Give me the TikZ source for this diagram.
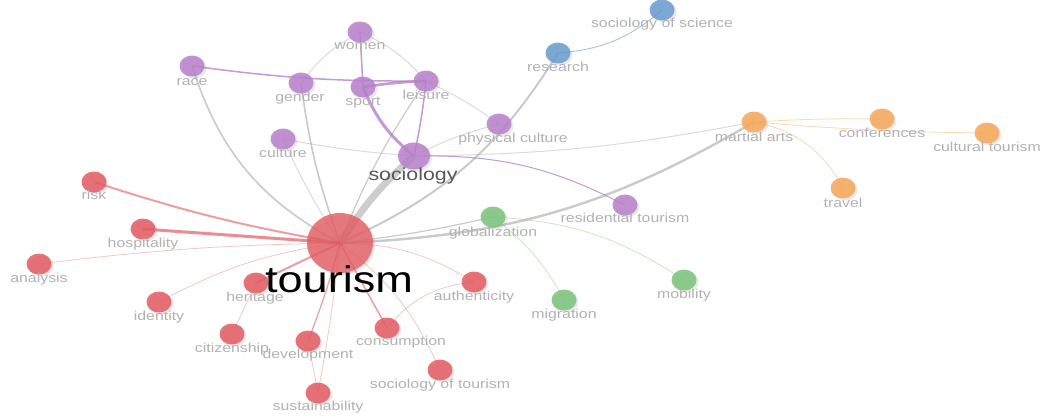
\documentclass[tikz,border=0pt]{standalone}
\usepackage{fontspec}
\setmainfont{Liberation Sans}
\usepackage{graphicx}
\usetikzlibrary{shapes.geometric,shadows}
\pgfdeclarelayer{background}
\pgfsetlayers{background,main}
\definecolor{cpur}{RGB}{184,128,204}
\definecolor{cred}{RGB}{228,92,98}
\definecolor{cblu}{RGB}{104,156,206}
\definecolor{cora}{RGB}{245,168,88}
\definecolor{cgrn}{RGB}{122,196,122}
\definecolor{cedge}{RGB}{185,185,185}
\definecolor{clab}{RGB}{178,178,178}
\newcommand\wlab[1]{\scalebox{1.22}[1]{#1}}
\tikzset{
  dot/.style={ellipse, inner sep=0pt, minimum width=25pt, minimum height=21pt,
    fill opacity=0.85, draw=none,
    drop shadow={opacity=0.18, shadow xshift=2pt, shadow yshift=-2pt}},
  pur/.style={dot, fill=cpur},
  red/.style={dot, fill=cred},
  blu/.style={dot, fill=cblu},
  ora/.style={dot, fill=cora},
  grn/.style={dot, fill=cgrn},
  lab/.style={text=clab, font=\fontsize{13}{13}\selectfont, inner sep=0pt,
    text height=9pt, text depth=3pt},
  ge/.style={draw=cedge, line width=1.6pt, opacity=0.75},
  gel/.style={draw=cedge, line width=1pt, opacity=0.5},
  pe/.style={draw=cpur, line width=1.5pt, opacity=0.8},
  pel/.style={draw=cpur, line width=0.9pt, opacity=0.5},
  re/.style={draw=cred, line width=1.2pt, opacity=0.6},
  rel/.style={draw=cred, line width=0.8pt, opacity=0.35},
  oe/.style={draw=cora, line width=0.8pt, opacity=0.45},
  be/.style={draw=cblu, line width=0.9pt, opacity=0.6},
  gre/.style={draw=cgrn, line width=0.8pt, opacity=0.4},
}
\begin{document}
\begin{tikzpicture}[x=1pt,y=-1pt]
\useasboundingbox (0,0) rectangle (1046,420);
% nodes
\node[red, minimum width=66pt, minimum height=60pt, fill opacity=0.8] (tour) at (340,243) {};
\node[pur, minimum width=32pt, minimum height=27pt] (soc) at (414,156) {};
\node[pur] (women) at (360,32) {};
\node[pur] (race) at (192,66) {};
\node[pur] (gender) at (301,83) {};
\node[pur] (sport) at (363,87) {};
\node[pur] (leis) at (426,81) {};
\node[pur] (cult) at (283,139) {};
\node[pur] (phys) at (499,124) {};
\node[pur] (resid) at (625,205) {};
\node[blu] (res) at (558,53) {};
\node[blu] (socsci) at (662,10) {};
\node[ora] (mart) at (754,122) {};
\node[ora] (conf) at (882,119) {};
\node[ora] (ctour) at (987,133) {};
\node[ora] (trav) at (843,188) {};
\node[grn] (glob) at (493,217) {};
\node[grn] (mob) at (684,280) {};
\node[grn] (migr) at (564,300) {};
\node[red] (risk) at (94,182) {};
\node[red] (hosp) at (143,229) {};
\node[red] (anal) at (39,264) {};
\node[red] (ident) at (159,302) {};
\node[red] (herit) at (256,283) {};
\node[red] (auth) at (474,282) {};
\node[red] (citiz) at (232,334) {};
\node[red] (devel) at (308,341) {};
\node[red] (consu) at (387,328) {};
\node[red] (soctour) at (440,370) {};
\node[red] (sust) at (318,393) {};
% edges
\begin{pgfonlayer}{background}
\fill[white] (0,0) rectangle (1046,420);
\draw[draw=cedge, line width=7pt, opacity=0.7] (tour.center) to[bend left=8] (soc.center);
\draw[ge] (race.center) to[bend right=22] (tour.center);
\draw[ge] (gender.center) to[bend right=6] (tour.center);
\draw[gel] (cult.center) to[bend right=4] (tour.center);
\draw[ge, line width=1.2pt] (leis.center) to[bend right=6] (tour.center);
\draw[ge, line width=2pt] (tour.center) to[bend right=17] (res.center);
\draw[ge, line width=2.4pt] (tour.center) to[bend right=14] (mart.center);
\draw[ge, line width=1.2pt] (tour.center) to[bend right=3] (glob.center);
\draw[gel] (soc.center) to[bend right=5] (mart.center);
\draw[gel] (cult.center) to[bend right=3] (soc.center);
\draw[gel] (soc.center) to[bend left=6] (phys.center);
\draw[gel] (leis.center) to[bend left=5] (phys.center);
\draw[gel] (women.center) to[bend right=12] (gender.center);
\draw[gel] (women.center) to[bend left=12] (leis.center);
\draw[pe, line width=3pt] (sport.center) to[bend right=14] (soc.center);
\draw[pe] (leis.center) to[bend left=3] (soc.center);
\draw[pe] (women.center) -- (sport.center);
\draw[pe] (race.center) to[bend right=4] (leis.center);
\draw[pe, line width=2.6pt] (sport.center) to[bend left=3] (leis.center);
\draw[pe, line width=1pt] (soc.center) to[bend left=14] (resid.center);
\draw[be] (res.center) to[bend right=18] (socsci.center);
\draw[oe] (mart.center) to[bend left=2] (conf.center);
\draw[oe] (mart.center) to[bend right=2] (ctour.center);
\draw[oe] (mart.center) to[bend left=25] (trav.center);
\draw[gre] (glob.center) to[bend left=15] (mob.center);
\draw[gre] (glob.center) to[bend left=12] (migr.center);
\draw[re, line width=2pt] (risk.center) to[bend right=4] (tour.center);
\draw[re, line width=3pt, opacity=0.7] (hosp.center) -- (tour.center);
\draw[rel] (anal.center) to[bend left=3] (tour.center);
\draw[rel] (ident.center) to[bend left=10] (tour.center);
\draw[re, line width=2pt] (herit.center) -- (tour.center);
\draw[rel] (herit.center) -- (citiz.center);
\draw[re] (tour.center) to[bend left=3] (devel.center);
\draw[rel] (tour.center) to[bend left=2] (sust.center);
\draw[rel] (devel.center) -- (sust.center);
\draw[re, line width=1.5pt] (tour.center) -- (consu.center);
\draw[rel] (tour.center) to[bend left=15] (auth.center);
\draw[rel] (tour.center) to[bend left=14] (soctour.center);
\draw[rel] (consu.center) to[bend left=22] (auth.center);
\end{pgfonlayer}
% labels
\node[lab] (women-l) at (360,46) {\wlab{women}};
\node[lab] (race-l) at (192,82) {\wlab{race}};
\node[lab] (gender-l) at (300,98) {\wlab{gender}};
\node[lab] (sport-l) at (363,102) {\wlab{sport}};
\node[lab] (leis-l) at (426,96) {\wlab{leisure}};
\node[lab] (cult-l) at (283,154) {\wlab{culture}};
\node[lab] (phys-l) at (513,139) {\wlab{physical culture}};
\node[lab] (res-l) at (558,68) {\wlab{research}};
\node[lab] (socsci-l) at (662,25) {\wlab{sociology of science}};
\node[lab] (mart-l) at (754,138) {\wlab{martial arts}};
\node[lab] (conf-l) at (882,134) {\wlab{conferences}};
\node[lab] (ctour-l) at (987,148) {\wlab{cultural tourism}};
\node[lab] (trav-l) at (843,204) {\wlab{travel}};
\node[lab] (resid-l) at (625,219) {\wlab{residential tourism}};
\node[lab] (glob-l) at (493,233) {\wlab{globalization}};
\node[lab] (mob-l) at (684,295) {\wlab{mobility}};
\node[lab] (migr-l) at (564,315) {\wlab{migration}};
\node[lab] (risk-l) at (94,196) {\wlab{risk}};
\node[lab] (hosp-l) at (143,244) {\wlab{hospitality}};
\node[lab] (anal-l) at (39,279) {\wlab{analysis}};
\node[lab] (ident-l) at (159,317) {\wlab{identity}};
\node[lab] (herit-l) at (255,298) {\wlab{heritage}};
\node[lab] (auth-l) at (474,297) {\wlab{authenticity}};
\node[lab] (citiz-l) at (232,349) {\wlab{citizenship}};
\node[lab] (devel-l) at (308,355) {\wlab{development}};
\node[lab] (consu-l) at (401,342) {\wlab{consumption}};
\node[lab] (soctour-l) at (440,385) {\wlab{sociology of tourism}};
\node[lab] (sust-l) at (318,407) {\wlab{sustainability}};
\node[lab, text=black!65, font=\fontsize{17.5}{18}\selectfont, text height=13pt, text depth=4pt] (soc-l) at (413,176) {\wlab{sociology}};
\node[text=black, font=\fontsize{37}{37}\selectfont, inner sep=0pt, anchor=base] (tour-l) at (339,292) {\wlab{tourism}};
\end{tikzpicture}
\end{document}
